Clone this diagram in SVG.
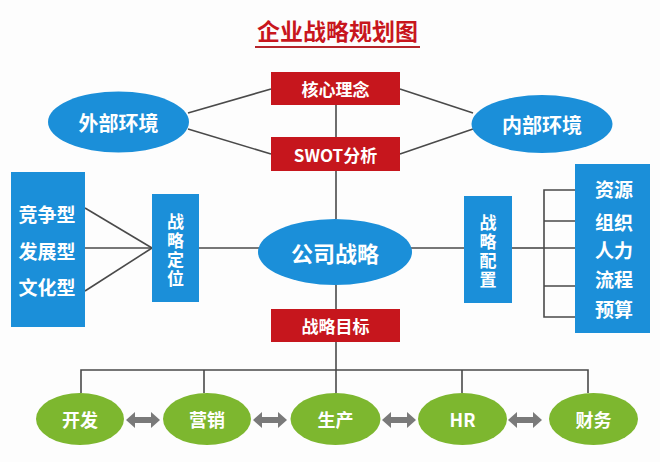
<svg xmlns="http://www.w3.org/2000/svg" width="660" height="462" viewBox="0 0 660 462">
<defs>
<style>
.t{font-family:"Noto Sans CJK SC","Noto Sans",sans-serif;fill:#fff;font-weight:bold;text-anchor:middle;dominant-baseline:central}
.v{font-size:17px;writing-mode:vertical-rl;letter-spacing:2px}
.blue{fill:#1b8fd9}
.red{fill:#c6161d}
.green{fill:#7db72f}
.ln{stroke:#4a4a4a;stroke-width:1.6;fill:none}
.arr{fill:#7a7a7a}
</style>
</defs>
<rect width="660" height="462" fill="#fdfdfd"/>
<g id="title">
<text x="337.5" y="30" class="t" style="fill:#c8161d;font-size:23px">企业战略规划图</text>
<line x1="255" y1="47" x2="420" y2="47" stroke="#b5252b" stroke-width="2"/>
</g>
<g id="connectors">
<line class="ln" x1="188" y1="113" x2="271" y2="89"/>
<line class="ln" x1="188" y1="129" x2="271" y2="154"/>
<line class="ln" x1="400" y1="89" x2="473" y2="113"/>
<line class="ln" x1="400" y1="154" x2="473" y2="129"/>
<line class="ln" x1="336" y1="105" x2="336" y2="137"/>
<line class="ln" x1="336" y1="171" x2="336" y2="219"/>
<line class="ln" x1="336" y1="285" x2="336" y2="309"/>
<line class="ln" x1="336" y1="342" x2="336" y2="393"/>
<line class="ln" x1="85" y1="208" x2="152" y2="248"/>
<line class="ln" x1="85" y1="248" x2="152" y2="248"/>
<line class="ln" x1="85" y1="291" x2="152" y2="248"/>
<line class="ln" x1="199" y1="248" x2="259" y2="248"/>
<line class="ln" x1="411" y1="248" x2="464" y2="248"/>
<line class="ln" x1="512" y1="248" x2="544" y2="248"/>
<path class="ln" d="M576 190H544V317H576M544 221H576M544 248H576M544 286H576"/>
<path class="ln" d="M81 393V370H588V393M204 370V393M462 370V393"/>
<path class="arr" d="M126 420l9-8v5h16v-5l9 8-9 8v-5h-16v5z"/>
<path class="arr" d="M253 420l9-8v5h16v-5l9 8-9 8v-5h-16v5z"/>
<path class="arr" d="M382 420l9-8v5h16v-5l9 8-9 8v-5h-16v5z"/>
<path class="arr" d="M508 420l9-8v5h16v-5l9 8-9 8v-5h-16v5z"/>
</g>
<g id="waibu">
<ellipse class="blue" cx="118.5" cy="122" rx="70.5" ry="30.5"/>
<text class="t" x="118.5" y="122" style="font-size:20px">外部环境</text>
</g>
<g id="neibu">
<ellipse class="blue" cx="542" cy="124" rx="70.5" ry="29"/>
<text class="t" x="542" y="124" style="font-size:20px">内部环境</text>
</g>
<g id="hexin">
<rect class="red" x="271" y="72" width="129" height="33"/>
<text class="t" x="335.5" y="88.5" style="font-size:17px">核心理念</text>
</g>
<g id="swot">
<rect class="red" x="271" y="137" width="129" height="34"/>
<text class="t" x="335.5" y="154" style="font-size:17px">SWOT分析</text>
</g>
<g id="gongsi">
<ellipse class="blue" cx="335" cy="252" rx="77" ry="33"/>
<text class="t" x="335" y="252" style="font-size:22px">公司战略</text>
</g>
<g id="mubiao">
<rect class="red" x="271" y="309" width="129" height="33"/>
<text class="t" x="335.5" y="325.5" style="font-size:17px">战略目标</text>
</g>
<g id="leixing">
<rect class="blue" x="11" y="172" width="74" height="155"/>
<text class="t" x="47" y="213" style="font-size:19px">竞争型</text>
<text class="t" x="47" y="250" style="font-size:19px">发展型</text>
<text class="t" x="47" y="286" style="font-size:19px">文化型</text>
</g>
<g id="dingwei">
<rect class="blue" x="152" y="194" width="47" height="108"/>
<text class="t v" x="175.5" y="251">战略定位</text>
</g>
<g id="peizhi">
<rect class="blue" x="464" y="196" width="48" height="107"/>
<text class="t v" x="488" y="252">战略配置</text>
</g>
<g id="ziyuan">
<rect class="blue" x="575" y="164" width="75" height="169"/>
<text class="t" x="614" y="188" style="font-size:19px">资源</text>
<text class="t" x="614" y="221" style="font-size:19px">组织</text>
<text class="t" x="614" y="249" style="font-size:19px">人力</text>
<text class="t" x="614" y="278" style="font-size:19px">流程</text>
<text class="t" x="614" y="308" style="font-size:19px">预算</text>
</g>
<g id="kaifa">
<ellipse class="green" cx="80" cy="419" rx="44" ry="26"/>
<text class="t" x="80" y="419" style="font-size:18px">开发</text>
</g>
<g id="yingxiao">
<ellipse class="green" cx="207" cy="419" rx="44" ry="26"/>
<text class="t" x="207" y="419" style="font-size:18px">营销</text>
</g>
<g id="shengchan">
<ellipse class="green" cx="335.5" cy="419" rx="45" ry="26"/>
<text class="t" x="335.5" y="419" style="font-size:18px">生产</text>
</g>
<g id="hr">
<ellipse class="green" cx="462.5" cy="419" rx="44.5" ry="26"/>
<text class="t" x="462.5" y="419" style="font-size:18px">HR</text>
</g>
<g id="caiwu">
<ellipse class="green" cx="593.5" cy="419" rx="44.5" ry="26"/>
<text class="t" x="593.5" y="419" style="font-size:18px">财务</text>
</g>
</svg>
